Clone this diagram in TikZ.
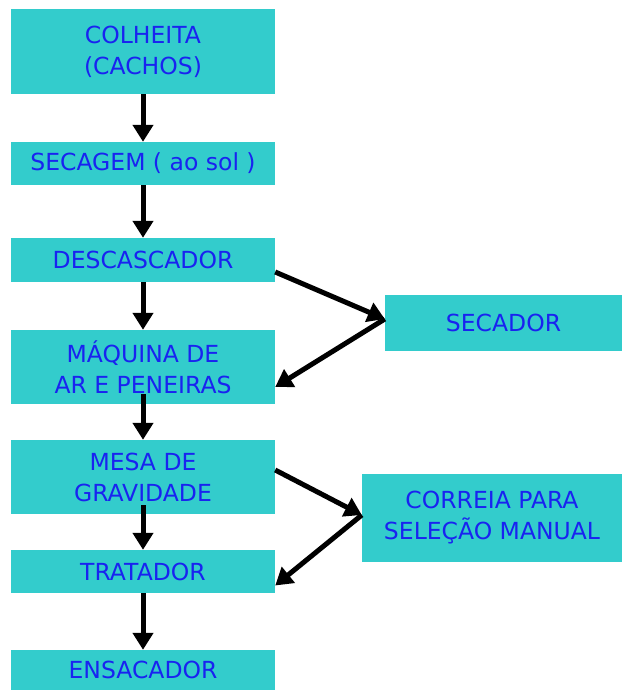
\documentclass[tikz,border=0pt]{standalone}
\usepackage{fontspec}
\setmainfont{DejaVu Sans}
\usetikzlibrary{arrows.meta}
\definecolor{boxfill}{RGB}{51,204,204}
\definecolor{boxtext}{RGB}{25,35,240}
\tikzset{
  stagebox/.style={fill=boxfill, text=boxtext, align=center, inner sep=0pt,
    font=\fontsize{23.5}{31}\selectfont},
  flow/.style={line width=5pt, -{Triangle[length=17pt,width=20pt]}}
}
\begin{document}
\begin{tikzpicture}[x=1pt, y=-1pt]
  \useasboundingbox (0,0) rectangle (622,690);
  % Main line
  \node[stagebox, minimum width=264pt, minimum height=85pt] (colheita) at (143,51.5) {COLHEITA\\(CACHOS)};
  \node[stagebox, minimum width=264pt, minimum height=43pt] (secagem) at (143,163.5) {SECAGEM ( ao sol )};
  \node[stagebox, minimum width=264pt, minimum height=44pt] (descascador) at (143,260) {DESCASCADOR};
  \node[stagebox, minimum width=264pt, minimum height=74pt] (maquina) at (143,367) {MÁQUINA DE\\AR E PENEIRAS};
  \node[stagebox, minimum width=264pt, minimum height=74pt] (mesa) at (143,477) {MESA DE\\GRAVIDADE};
  \node[stagebox, minimum width=264pt, minimum height=43pt] (tratador) at (143,571.5) {TRATADOR};
  \node[stagebox, minimum width=264pt, minimum height=40pt] (ensacador) at (143,670) {ENSACADOR};
  % Side steps
  \node[stagebox, minimum width=237pt, minimum height=56pt] (secador) at (503.5,323) {SECADOR};
  \node[stagebox, minimum width=260pt, minimum height=88pt] (correia) at (492,518) {CORREIA PARA\\SELEÇÃO MANUAL};
  % Arrows
  \draw[flow] (colheita) -- (secagem);
  \draw[flow] (secagem) -- (descascador);
  \draw[flow] (descascador) -- (maquina);
  \draw[flow, shorten <=-10pt] (maquina) -- (mesa);
  \draw[flow, shorten <=-9pt] (mesa) -- (tratador);
  \draw[flow] (tratador) -- (ensacador);
  \draw[flow] ([yshift=-12pt]descascador.east) -- ([yshift=4pt]secador.west);
  \draw[flow] ([yshift=4pt]secador.west) -- ([yshift=-20pt]maquina.east);
  \draw[flow] ([yshift=7pt]mesa.east) -- ([yshift=3pt]correia.west);
  \draw[flow] ([yshift=3pt]correia.west) -- ([yshift=-14pt]tratador.east);
\end{tikzpicture}
\end{document}
